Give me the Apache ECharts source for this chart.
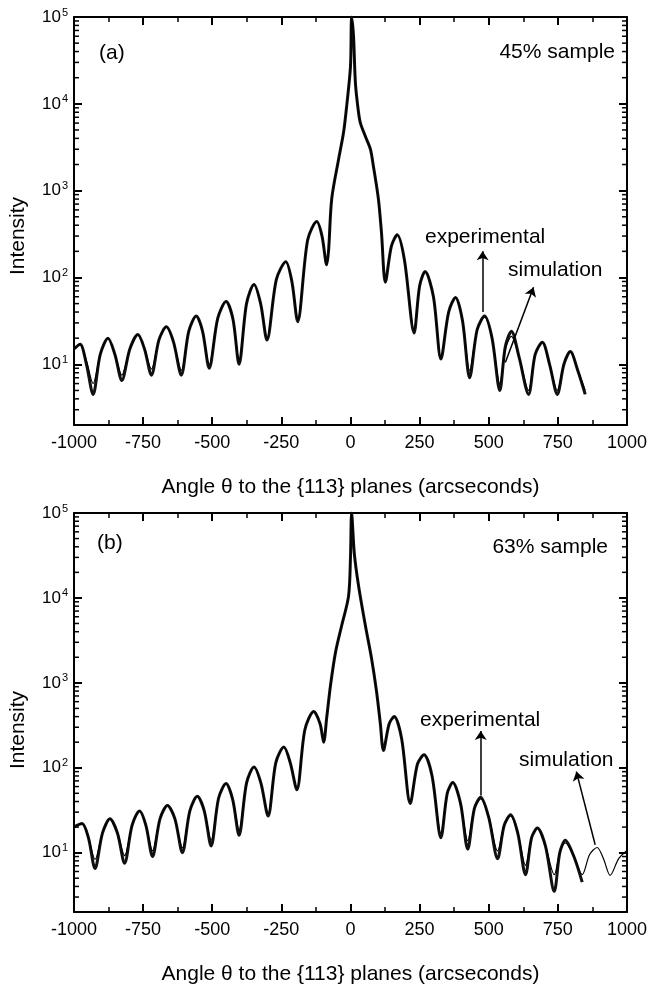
<!DOCTYPE html>
<html>
<head>
<meta charset="utf-8">
<script src="https://cdn.jsdelivr.net/npm/echarts@6/dist/echarts.min.js"></script>
<style>
html,body{margin:0;padding:0;background:#fff}
#chart{width:650px;height:986px}
</style>
</head>
<body>
<div id="chart"></div>
<script>
// panel (a): 45% sample
var aAngle = [-1000,-978,-955,-931,-905,-877,-852,-827,-798,-769,-745,-720,-693,-666,-640,-612,-585,-558,-535,-511,-480,-450,-425,-403,-376,-349,-325,-302,-268,-234,-212,-191,-155,-122,-103,-86,-79,-68,-43,-25,-14,0,4,11,18,29,36,54,72,83,101,112,126,148,169,195,230,250,270,300,327,355,380,405,431,458,485,512,540,560,582,610,644,668,694,720,748,772,795,822,849];
var aSim = [15,17,11,6,13, 20,13,7.5,15,22, 15,8.8,19,27,18, 8.5,24,36,24,10, 34,53,33,11,50, 83,50,20,95,152, 90,33,270,440,300, 140,210,800,2300,4700, 9300,27000,95000,60000,17000, 8000,6000,4200,3000,1900, 800,330,90,230,310, 160,25,80,117,60, 12,40,59,32,8.5, 25,35,20,6,15, 21,12,5,13,18, 10,5,10,14,8.5, 5];
var aExp = [15,17,10,4.5,13, 20,13,6.5,15,22, 15,7.5,19,27,18, 7.5,24,36,24,9, 34,53,33,10,50, 83,50,19,95,152, 90,31,270,440,300, 140,210,800,2300,4700, 9300,27000,100000,60000,17000, 8000,6000,4200,3000,1900, 800,330,88,230,310, 160,23,80,117,60, 11.5,40,59,32,7, 25,36,20,5,16, 24,12,4.5,13,18, 10,4.5,10,14,8.5, 4.5];

// panel (b): 63% sample
var bAngle = [-1000,-971,-948,-924,-897,-870,-843,-817,-790,-763,-740,-716,-689,-662,-635,-608,-581,-554,-529,-504,-477,-450,-426,-403,-376,-349,-324,-298,-270,-241,-218,-194,-165,-133,-110,-97,-86,-72,-54,-32,-7,0,4,14,29,54,76,94,108,119,140,158,185,216,242,266,295,327,350,370,398,424,448,471,500,532,556,579,605,633,655,676,705,737,757,777,808,838,865,892,915,939,970,1000];
var bSim = [20,22,15,8.3,17, 25,17,9.2,21,31, 21,10.5,25,36,25, 11.4,31,46,31,14, 44,65,42,18.5,66, 102,66,29,115,175, 115,57,280,460,330, 200,390,950,2300,4700, 10500,30000,100000,33000,14000, 4700,1950,800,330,165, 330,400,220,40,110, 142,80,17,50,67, 38,13.8,33,43,26, 10.5,21,27,17,7.1, 15,19.5,12,5.5,10, 13,9,5.5,9.5,11.5, 8.5,5.4,8.5,10.6];
var bExp = [20,22,15,6.5,17, 25,17,7.5,21,31, 21,9,25,36,25, 10,31,46,31,12, 44,65,42,16,66, 102,66,27,115,175, 115,55,280,460,330, 200,390,950,2300,4700, 10500,30000,100000,33000,14000, 4700,1950,800,330,160, 330,400,220,38,110, 142,80,15,50,67, 38,11,33,45,26, 8.5,21,28,17,5.5, 15,19.5,12,3.5,10, 14,9,4.5,null,null, null,null,null,null];

var FONT = '"Liberation Sans", Arial, Helvetica, sans-serif';

// log minor tick positions (2..9 of each decade)
var logMinor = [];
for (var d = 1; d <= 10000; d *= 10) {
	for (var k = 2; k <= 9; k++) {
		logMinor.push(k * d);
	}
}

function pairs(xs, ys) {
	var r = [];
	for (var i = 0; i < xs.length; i++) {
		r.push([xs[i], ys[i]]);
	}
	return r;
}

function logLabel(v) {
	var e = Math.round(Math.log10(v));
	if (Math.abs(v - Math.pow(10, e)) > 1e-6 * v) return '';
	return '{b|10}{s|' + e + '}';
}

function xAxisFor(gi, top) {
	return {
		type: 'value', gridIndex: gi, min: -1000, max: 1000, interval: 250,
		position: top ? 'top' : 'bottom',
		name: top ? '' : 'Angle \u03B8 to the {113} planes (arcseconds)',
		nameLocation: 'middle', nameGap: 52,
		nameTextStyle: { fontFamily: FONT, fontSize: 21, color: '#000' },
		axisLine: { show: true, onZero: false, lineStyle: { color: '#000', width: 2 } },
		axisTick: { show: true, inside: true, length: 8, lineStyle: { color: '#000', width: 2 } },
		minorTick: { show: true, splitNumber: 2, length: 5, lineStyle: { color: '#000', width: 1.5 } },
		axisLabel: {
			show: !top, margin: 9, fontFamily: FONT, fontSize: 18, color: '#000',
			formatter: function (v) { return String(v); }
		},
		splitLine: { show: false }
	};
}

function yAxisFor(gi, right) {
	return {
		type: 'log', logBase: 10, gridIndex: gi, min: 2, max: 100000,
		position: right ? 'right' : 'left',
		axisLine: { show: true, onZero: false, lineStyle: { color: '#000', width: 2 } },
		axisTick: { show: true, inside: true, length: 8, lineStyle: { color: '#000', width: 2 } },
		axisLabel: {
			show: !right, margin: 6, formatter: logLabel,
			rich: {
				b: { fontFamily: FONT, fontSize: 17, color: '#000' },
				s: { fontFamily: FONT, fontSize: 11, color: '#000', padding: [0, 0, 9, 1] }
			}
		},
		splitLine: { show: false }
	};
}

function minorTickSeries(gi) {
	return {
		type: 'custom', xAxisIndex: gi, yAxisIndex: gi, silent: true, z: 5,
		data: logMinor.map(function (v) { return [0, v]; }),
		renderItem: function (params, api) {
			var v = api.value(1);
			var p = api.coord([-1000, v]);
			var q = api.coord([1000, v]);
			var st = { stroke: '#000', lineWidth: 1.5 };
			return {
				type: 'group', children: [
					{ type: 'line', shape: { x1: p[0], y1: p[1], x2: p[0] + 5, y2: p[1] }, style: st },
					{ type: 'line', shape: { x1: q[0] - 5, y1: q[1], x2: q[0], y2: q[1] }, style: st }
				]
			};
		}
	};
}

function arrowLine(items) {
	return {
		silent: true, symbol: ['none', 'arrow'], symbolSize: 9,
		label: { show: false },
		lineStyle: { color: '#000', width: 1.5, type: 'solid' },
		data: items
	};
}

var myChart = echarts.init(document.getElementById('chart'));
myChart.setOption({
	animation: false,
	backgroundColor: '#fff',
	grid: [
		{ left: 74, top: 17, width: 556, height: 408 },
		{ left: 74, top: 513, width: 556, height: 408 }
	],
	xAxis: [xAxisFor(0, false), xAxisFor(1, false), xAxisFor(0, true), xAxisFor(1, true)],
	yAxis: [yAxisFor(0, false), yAxisFor(1, false), yAxisFor(0, true), yAxisFor(1, true)],
	series: [
		{
			type: 'line', name: 'experimental a', xAxisIndex: 0, yAxisIndex: 0,
			data: pairs(aAngle, aExp), showSymbol: false, smooth: 0.3,
			lineStyle: { color: '#111', width: 3 }
		},
		{
			type: 'line', name: 'simulation a', xAxisIndex: 0, yAxisIndex: 0,
			data: pairs(aAngle, aSim), showSymbol: false, smooth: 0.3,
			lineStyle: { color: '#000', width: 1.2 },
			markLine: arrowLine([
				[{ coord: [478, 40] }, { coord: [478, 200] }],
				[{ coord: [560, 10.5], lineStyle: { curveness: -0.3 } }, { coord: [662, 77] }]
			])
		},
		{
			type: 'line', name: 'experimental b', xAxisIndex: 1, yAxisIndex: 1,
			data: pairs(bAngle, bExp), showSymbol: false, smooth: 0.3,
			lineStyle: { color: '#111', width: 3 }
		},
		{
			type: 'line', name: 'simulation b', xAxisIndex: 1, yAxisIndex: 1,
			data: pairs(bAngle, bSim), showSymbol: false, smooth: 0.3,
			lineStyle: { color: '#000', width: 1.2 },
			markLine: arrowLine([
				[{ coord: [471, 47] }, { coord: [471, 270] }],
				[{ coord: [885, 12.4] }, { coord: [817, 90] }]
			])
		},
		minorTickSeries(0),
		minorTickSeries(1)
	],
	graphic: [
		{ type: 'text', x: 99, y: 53, style: { text: '(a)', font: '21px ' + FONT, fill: '#000', textAlign: 'left', textVerticalAlign: 'middle' } },
		{ type: 'text', x: 615, y: 52, style: { text: '45% sample', font: '21px ' + FONT, fill: '#000', textAlign: 'right', textVerticalAlign: 'middle' } },
		{ type: 'text', x: 425, y: 237, style: { text: 'experimental', font: '21px ' + FONT, fill: '#000', textAlign: 'left', textVerticalAlign: 'middle' } },
		{ type: 'text', x: 508, y: 270, style: { text: 'simulation', font: '21px ' + FONT, fill: '#000', textAlign: 'left', textVerticalAlign: 'middle' } },
		{ type: 'text', x: 18, y: 236, rotation: Math.PI / 2, style: { text: 'Intensity', font: '21px ' + FONT, fill: '#000', textAlign: 'center', textVerticalAlign: 'middle' } },
		{ type: 'text', x: 97, y: 543, style: { text: '(b)', font: '21px ' + FONT, fill: '#000', textAlign: 'left', textVerticalAlign: 'middle' } },
		{ type: 'text', x: 608, y: 547, style: { text: '63% sample', font: '21px ' + FONT, fill: '#000', textAlign: 'right', textVerticalAlign: 'middle' } },
		{ type: 'text', x: 420, y: 720, style: { text: 'experimental', font: '21px ' + FONT, fill: '#000', textAlign: 'left', textVerticalAlign: 'middle' } },
		{ type: 'text', x: 519, y: 760, style: { text: 'simulation', font: '21px ' + FONT, fill: '#000', textAlign: 'left', textVerticalAlign: 'middle' } },
		{ type: 'text', x: 18, y: 730, rotation: Math.PI / 2, style: { text: 'Intensity', font: '21px ' + FONT, fill: '#000', textAlign: 'center', textVerticalAlign: 'middle' } }
	]
});
</script>
</body>
</html>
